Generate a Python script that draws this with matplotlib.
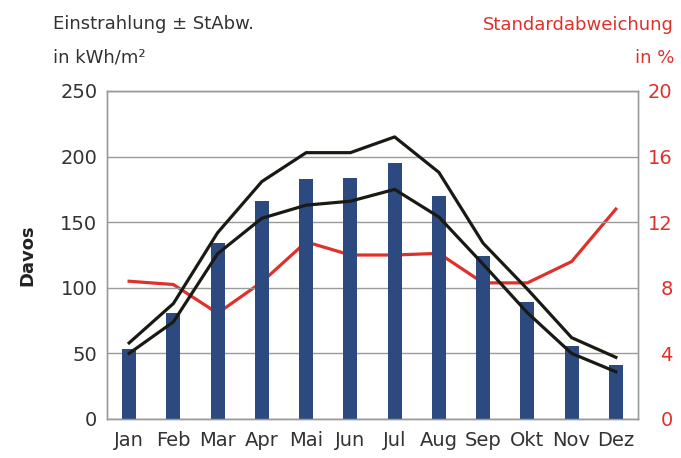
import numpy as np
import matplotlib
matplotlib.use("Agg")
import matplotlib.pyplot as plt
from matplotlib import font_manager

# prefer a narrow / condensed face if one is installed
narrow = None
for f in font_manager.fontManager.ttflist:
    if 'Narrow' in f.name or f.stretch in ('condensed', 'semi-condensed') or 'Condensed' in f.name:
        narrow = f.name
        break
fams = [narrow, 'DejaVu Sans'] if narrow else ['DejaVu Sans']
plt.rcParams['font.family'] = fams

# data (Davos)
months = ["Jan", "Feb", "Mar", "Apr", "Mai", "Jun", "Jul", "Aug", "Sep", "Okt", "Nov", "Dez"]
einstrahlung = [53, 81, 134, 166, 183, 184, 195, 170, 124, 89, 56, 41]
upper = [58, 88, 142, 181, 203, 203, 215, 188, 134, 99, 62, 47]
lower = [50, 74, 126, 153, 163, 166, 175, 154, 118, 81, 50, 36]
stdabw_pct = [8.4, 8.2, 6.45, 8.35, 10.8, 10.0, 10.0, 10.1, 8.3, 8.3, 9.6, 12.8]

text_col = "#333333"
red = "#e0302a"
bar_col = "#2d4a80"
grid_col = "#9a9a9a"

fig = plt.figure(figsize=(6.81, 4.58), dpi=100)
ax = fig.add_axes([107/681, 1 - 419/458, (638 - 107)/681, (419 - 91)/458])
ax2 = ax.twinx()

x = np.arange(len(months))
ax.bar(x, einstrahlung, width=0.32, color=bar_col, zorder=2)
ax.plot(x, upper, color="#1a1a14", lw=2.3, zorder=3)
ax.plot(x, lower, color="#1a1a14", lw=2.3, zorder=3)
ax2.plot(x, stdabw_pct, color=red, lw=2.3, zorder=3)

ax.set_xlim(-0.5, 11.5)
ax.set_ylim(0, 250)
ax.set_yticks([0, 50, 100, 150, 200, 250])
ax2.set_ylim(0, 20)
ax2.set_yticks([0, 4, 8, 12, 16, 20])
ax.set_xticks(x)
ax.set_xticklabels(months)

ax.grid(axis='y', color=grid_col, lw=1.0, zorder=0)
ax.set_axisbelow(True)
for a in (ax, ax2):
    for s in a.spines.values():
        s.set_color(grid_col)
        s.set_linewidth(1.0)

ax.tick_params(axis='both', length=0, labelsize=14, colors=text_col)
ax.tick_params(axis='y', pad=7)
ax.tick_params(axis='x', pad=9)
ax2.tick_params(axis='y', length=0, labelsize=14, colors=red, pad=25)
for lbl in ax2.get_yticklabels():
    lbl.set_horizontalalignment('right')

ax.set_zorder(ax2.get_zorder() + 1)
ax.patch.set_visible(False)

# header texts
fig.text(53/681, 1 - 29/458, "Einstrahlung ± StAbw.", fontsize=13, color=text_col)
fig.text(53/681, 1 - 63/458, "in kWh/m²", fontsize=13, color=text_col)
fig.text(674/681, 1 - 30/458, "Standardabweichung", fontsize=13, color=red, ha='right')
fig.text(674/681, 1 - 63/458, "in %", fontsize=13, color=red, ha='right')
fig.text(27/681, 1 - 255/458, "Davos", fontsize=13, color="#222222", fontweight='bold',
         rotation=90, ha='center', va='center')

fig.savefig("out.png", dpi=100)
